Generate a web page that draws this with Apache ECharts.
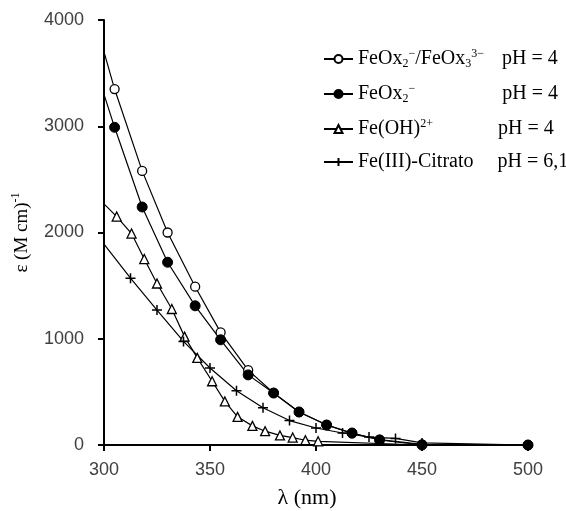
<!DOCTYPE html>
<html><head><meta charset="utf-8">
<script src="https://cdn.jsdelivr.net/npm/echarts@6/dist/echarts.min.js"></script>
<style>html,body{margin:0;padding:0;background:#fff}#c{width:566px;height:511px}</style>
</head><body><div id="c"></div>
<script>
// Data
var wlOx = [300, 305, 318, 330, 343, 355, 368, 380, 392, 405, 417, 430, 450, 500];
var epsOxMix = [3700, 3350, 2580, 2000, 1490, 1060, 705, 490, 310, 190, 110, 50, 5, 0];
var epsOx2 = [3300, 2990, 2240, 1720, 1310, 990, 660, 489, 311, 188, 113, 47, 0, 0];
var wlOH = [300, 306, 313, 319, 325, 332, 338, 344, 351, 357, 363, 370, 376, 383, 389, 395, 401, 450, 500];
var epsOH = [2270, 2150, 1990, 1750, 1520, 1280, 1020, 820, 600, 410, 265, 180, 130, 90, 70, 45, 35, 0, 0];
var wlCit = [300, 312.5, 325, 337.5, 350, 362.5, 375, 387.5, 400, 412.5, 425, 437.5, 450, 500];
var epsCit = [1890, 1570, 1270, 975, 725, 510, 350, 230, 160, 113, 75, 62, 20, 0];
var seriesNames = ['FeOx2-/FeOx3 3-', 'FeOx2-', 'Fe(OH)2+', 'Fe(III)-Citrato'];
var legendLabels = [
  '{n|FeOx}{sb|2}{sp|−}{n|/FeOx}{sb|3}{sp|3−}{p1|pH = 4}',
  '{n|FeOx}{sb|2}{sp|−}{p2|pH = 4}',
  '{n|Fe(OH)}{sp|2+}{p3|pH = 4}',
  '{n|Fe(III)-Citrato}{p4|pH = 6,1}'
];
var xTicks = [300, 350, 400, 450, 500];
var yTicks = [0, 1000, 2000, 3000, 4000];

function pairs(xs, ys, noMarkIdx) {
  return xs.map(function (x, i) {
    var d = {value: [x, ys[i]]};
    if (noMarkIdx.indexOf(i) >= 0) d.symbol = 'none';
    return d;
  });
}
var plusPath = 'path://M5,0L5,10M0,5L10,5';
var lineStyle = {color: '#000', width: 1.2};
var serif = 'Liberation Serif';
var chart = echarts.init(document.getElementById('c'));
chart.setOption({
  animation: false,
  backgroundColor: '#fff',
  grid: {left: 104, right: 38, top: 20, bottom: 66, containLabel: false, outerBoundsMode: 'none'},
  xAxis: {
    type: 'value', min: 300, max: 500, interval: 50,
    name: 'λ (nm)', nameLocation: 'middle', nameGap: 42,
    nameTextStyle: {fontFamily: serif, fontSize: 22, color: '#000', padding: [0, 18, 0, 0]},
    axisLine: {lineStyle: {color: '#000', width: 2}},
    axisTick: {show: true, length: 6, lineStyle: {color: '#000', width: 2}},
    axisLabel: {fontFamily: 'Liberation Sans', fontSize: 18, color: '#404040', margin: 16,
      formatter: function (v) { return String(v); }},
    splitLine: {show: false}
  },
  yAxis: {
    type: 'value', min: 0, max: 4000, interval: 1000,
    name: '{a|ε (M cm)}{s|-1}', nameLocation: 'middle', nameGap: 70, nameRotate: 90,
    nameTextStyle: {
      rich: {
        a: {fontFamily: serif, fontSize: 19, color: '#000', lineHeight: 24},
        s: {fontFamily: serif, fontSize: 12, color: '#000', verticalAlign: 'top', lineHeight: 24}
      }
    },
    axisLine: {show: true, lineStyle: {color: '#000', width: 2}},
    axisTick: {show: true, length: 6, lineStyle: {color: '#000', width: 2}},
    axisLabel: {fontFamily: 'Liberation Sans', fontSize: 18, color: '#404040', margin: 20,
      formatter: function (v) { return String(v); }},
    splitLine: {show: false}
  },
  legend: {
    orient: 'vertical', left: 323, top: 48, padding: 0, itemGap: 13, itemWidth: 29, itemHeight: 10,
    data: seriesNames,
    formatter: function (name) { return legendLabels[seriesNames.indexOf(name)]; },
    textStyle: {
      rich: {
        n: {fontFamily: serif, fontSize: 20, color: '#000', lineHeight: 22},
        sb: {fontFamily: serif, fontSize: 12, color: '#000', verticalAlign: 'bottom', lineHeight: 22},
        sp: {fontFamily: serif, fontSize: 12, color: '#000', verticalAlign: 'top', lineHeight: 22},
        p1: {fontFamily: serif, fontSize: 20, color: '#000', lineHeight: 22, padding: [0, 0, 0, 18]},
        p2: {fontFamily: serif, fontSize: 20, color: '#000', lineHeight: 22, padding: [0, 0, 0, 87]},
        p3: {fontFamily: serif, fontSize: 20, color: '#000', lineHeight: 22, padding: [0, 0, 0, 65]},
        p4: {fontFamily: serif, fontSize: 20, color: '#000', lineHeight: 22, padding: [0, 0, 0, 24]}
      }
    }
  },
  series: [
    {name: seriesNames[0], type: 'line', data: pairs(wlOx, epsOxMix, [0]), symbol: 'circle', symbolSize: 9,
     itemStyle: {color: '#fff', borderColor: '#000', borderWidth: 1.3}, lineStyle: lineStyle},
    {name: seriesNames[1], type: 'line', data: pairs(wlOx, epsOx2, [0]), symbol: 'circle', symbolSize: 10,
     itemStyle: {color: '#000', borderColor: '#000', borderWidth: 1}, lineStyle: lineStyle},
    {name: seriesNames[2], type: 'line', data: pairs(wlOH, epsOH, [0, 17, 18]), symbol: 'triangle', symbolSize: 9,
     itemStyle: {color: '#fff', borderColor: '#000', borderWidth: 1.3}, lineStyle: lineStyle},
    {name: seriesNames[3], type: 'line', data: pairs(wlCit, epsCit, [0]), symbol: plusPath, symbolSize: 10,
     itemStyle: {color: 'none', borderColor: '#000', borderWidth: 1.5}, lineStyle: lineStyle}
  ]
});
</script></body></html>
